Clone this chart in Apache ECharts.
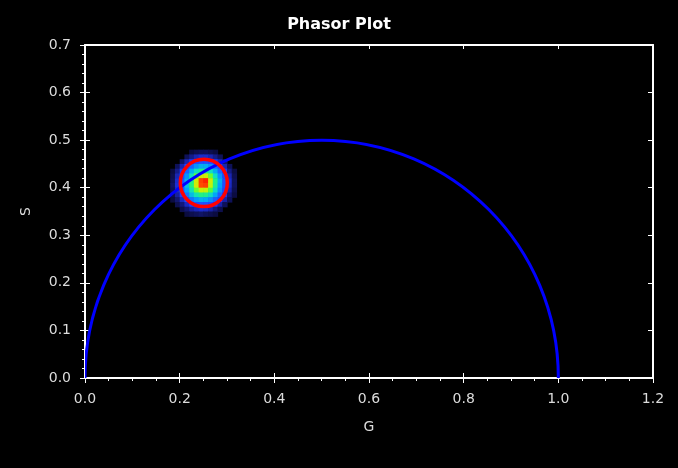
<!DOCTYPE html>
<html>
<head>
<meta charset="utf-8">
<script src="https://cdn.jsdelivr.net/npm/echarts@6/dist/echarts.min.js"></script>
<style>html,body{margin:0;padding:0;background:#000;}#c{width:678px;height:468px;}</style>
</head>
<body>
<div id="c"></div>
<script>
// ---- data ----
var xTicks = [0.0, 0.2, 0.4, 0.6, 0.8, 1.0, 1.2];
var yTicks = [0.0, 0.1, 0.2, 0.3, 0.4, 0.5, 0.6, 0.7];
// universal semicircle: centre G, centre S, radius
var universalCircle = [[0.5, 0.0, 0.5]];
// red ROI circle: centre G, centre S, radius
var roiCircle = [[0.251, 0.410, 0.0497]];
// phasor histogram cell centres
var gCenters = [0.185, 0.195, 0.205, 0.215, 0.225, 0.235, 0.245, 0.255, 0.265, 0.275, 0.285, 0.295, 0.305, 0.315];
var sCenters = [0.475, 0.465, 0.455, 0.445, 0.435, 0.425, 0.415, 0.405, 0.395, 0.385, 0.375, 0.365, 0.355, 0.345];
// relative counts, rows follow sCenters, columns follow gCenters
var density = [
  [0, 0, 0, 0, 1, 2, 3, 3, 2, 1, 0, 0, 0, 0],
  [0, 0, 0, 3, 7, 11, 14, 14, 11, 7, 3, 0, 0, 0],
  [0, 0, 4, 11, 19, 25, 28, 28, 25, 19, 11, 4, 0, 0],
  [0, 3, 11, 23, 32, 38, 42, 42, 38, 32, 23, 11, 3, 0],
  [1, 7, 19, 32, 42, 50, 55, 55, 50, 42, 32, 19, 7, 1],
  [2, 11, 25, 38, 50, 65, 76, 76, 65, 50, 38, 25, 11, 2],
  [3, 14, 28, 42, 55, 76, 95, 98, 76, 55, 42, 28, 14, 3],
  [4, 15, 30, 44, 56, 76, 94, 95, 74, 54, 40, 27, 13, 3],
  [3, 13, 27, 40, 51, 65, 75, 74, 63, 49, 37, 24, 10, 2],
  [2, 9, 21, 34, 44, 51, 55, 54, 49, 41, 31, 18, 6, 1],
  [1, 5, 13, 25, 34, 39, 42, 41, 37, 31, 22, 10, 3, 0],
  [0, 2, 6, 13, 21, 26, 28, 27, 24, 18, 10, 3, 0, 0],
  [0, 0, 2, 5, 9, 12, 14, 13, 10, 6, 2, 0, 0, 0],
  [0, 0, 0, 1, 2, 3, 4, 3, 2, 1, 0, 0, 0, 0]
];
var cellSize = 0.01;

// ---- build ----
var heatData = [];
for (var r = 0; r < sCenters.length; r++) {
  for (var c = 0; c < gCenters.length; c++) {
    if (density[r][c] > 0) heatData.push([gCenters[c], sCenters[r], density[r][c]]);
  }
}
var LBL = '#dcdcdc';
var FONT = 'DejaVu Sans';
function fmt(v){ return v.toFixed(1); }
function baseAxis(extra) {
  var o = {
    type: 'value', splitLine: {show: false},
    axisLine: {show: true, onZero: false, lineStyle: {color: '#fff', width: 2}},
    axisTick: {show: true, inside: true, length: 5, lineStyle: {color: '#fff', width: 1}},
    axisLabel: {show: false},
    minorTick: {show: false}
  };
  for (var k in extra) o[k] = extra[k];
  return o;
}
var xCommon = {min: xTicks[0], max: xTicks[xTicks.length - 1], interval: xTicks[1] - xTicks[0]};
var yCommon = {min: yTicks[0], max: yTicks[yTicks.length - 1], interval: yTicks[1] - yTicks[0]};
function merge(a, b){ var o = {}; for (var k in a) o[k] = a[k]; for (var k2 in b) o[k2] = b[k2]; return o; }

var chart = echarts.init(document.getElementById('c'));
chart.setOption({
  backgroundColor: '#000',
  animation: false,
  title: {
    text: 'Phasor Plot', left: 'center', top: 12,
    textStyle: {color: '#fff', fontWeight: 'bold', fontSize: 16, fontFamily: FONT}
  },
  grid: {left: 85, right: 25, top: 45, bottom: 90, containLabel: false},
  xAxis: [
    baseAxis(merge(xCommon, {
      position: 'bottom', name: 'G', nameLocation: 'middle', nameGap: 42,
      nameTextStyle: {color: LBL, fontSize: 14, fontFamily: FONT},
      axisTick: {show: true, inside: false, length: 5, lineStyle: {color: '#fff', width: 1}},
      minorTick: {show: true, splitNumber: 4, length: 3, lineStyle: {color: '#fff', width: 1}},
      axisLabel: {show: true, color: LBL, fontSize: 14, fontFamily: FONT, margin: 14, formatter: fmt}
    })),
    baseAxis(merge(xCommon, {position: 'bottom', axisLine: {show: false}})),
    baseAxis(merge(xCommon, {position: 'top', axisTick: {show: true, inside: true, length: 4, lineStyle: {color: '#fff', width: 1}}}))
  ],
  yAxis: [
    baseAxis(merge(yCommon, {
      position: 'left', name: 'S', nameLocation: 'middle', nameGap: 52,
      nameTextStyle: {color: LBL, fontSize: 14, fontFamily: FONT},
      axisTick: {show: true, inside: false, length: 5, lineStyle: {color: '#fff', width: 1}},
      minorTick: {show: true, splitNumber: 5, length: 3, lineStyle: {color: '#fff', width: 1}},
      axisLabel: {show: true, color: LBL, fontSize: 14, fontFamily: FONT, margin: 14, formatter: fmt}
    })),
    baseAxis(merge(yCommon, {position: 'left', axisLine: {show: false}})),
    baseAxis(merge(yCommon, {position: 'right'}))
  ],
  visualMap: {
    show: false, type: 'continuous', seriesIndex: 0, dimension: 2, min: 0, max: 100,
    inRange: {color: ['#0a0a36', '#1822a8', '#1f3cff', '#1f55ff', '#00a0ff', '#10e0c0', '#30ff50', '#a0ff10', '#f0e000', '#ff7000', '#ff1000']}
  },
  series: [
    {
      type: 'custom', name: 'histogram', xAxisIndex: 0, yAxisIndex: 0, clip: true,
      data: heatData,
      renderItem: function (params, api) {
        var p = api.coord([api.value(0) - cellSize / 2, api.value(1) + cellSize / 2]);
        var s = api.size([cellSize, cellSize]);
        return {type: 'rect', shape: {x: p[0], y: p[1], width: s[0] + 0.6, height: s[1] + 0.6},
          style: {fill: api.visual('color')}};
      }
    },
    {
      type: 'custom', name: 'universal', xAxisIndex: 0, yAxisIndex: 0, clip: true,
      data: universalCircle, z: 3,
      renderItem: function (params, api) {
        var c = api.coord([api.value(0), api.value(1)]);
        var s = api.size([api.value(2), api.value(2)]);
        return {type: 'ellipse', shape: {cx: c[0], cy: c[1], rx: s[0], ry: s[1]},
          style: {fill: 'none', stroke: '#0000ff', lineWidth: 3}};
      }
    },
    {
      type: 'custom', name: 'roi', xAxisIndex: 0, yAxisIndex: 0, clip: true,
      data: roiCircle, z: 4,
      renderItem: function (params, api) {
        var c = api.coord([api.value(0), api.value(1)]);
        var s = api.size([api.value(2), api.value(2)]);
        return {type: 'ellipse', shape: {cx: c[0], cy: c[1], rx: s[0], ry: s[1]},
          style: {fill: 'none', stroke: '#ff0000', lineWidth: 3.5}};
      }
    }
  ]
});
</script>
</body>
</html>
